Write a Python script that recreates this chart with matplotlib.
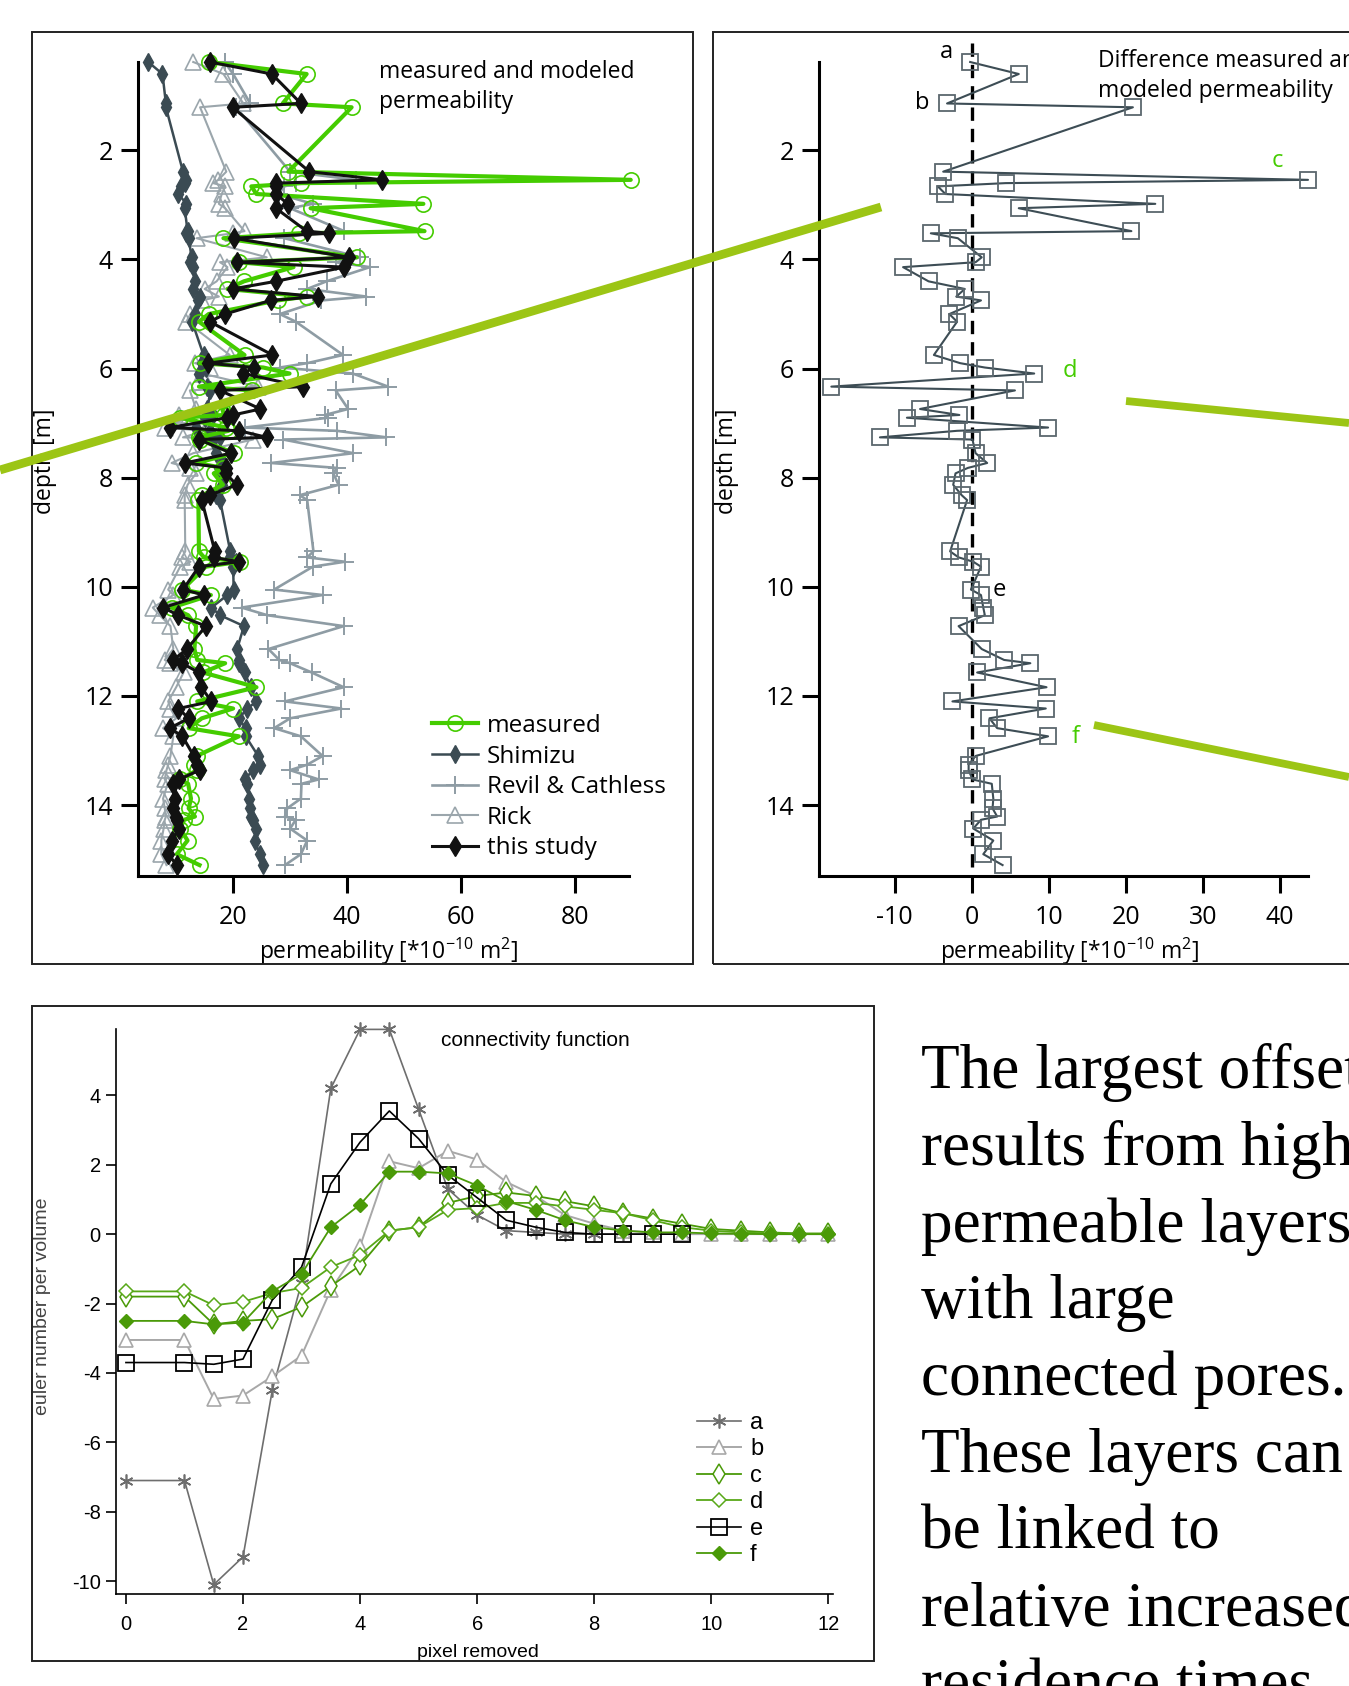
import matplotlib
matplotlib.use("Agg")
import matplotlib.pyplot as plt
from matplotlib.lines import Line2D
from matplotlib.patches import Rectangle

# ---------------- data: permeability profiles ----------------
depth = [0.38, 0.60, 1.14, 1.21, 2.39, 2.54, 2.60, 2.66, 2.80, 2.98,
         3.06, 3.48, 3.52, 3.61, 3.96, 4.05, 4.14, 4.40, 4.54, 4.68,
         4.75, 5.00, 5.14, 5.75, 5.90, 5.98, 6.09, 6.33, 6.40, 6.74,
         6.85, 6.90, 7.08, 7.14, 7.26, 7.30, 7.55, 7.73, 7.82, 7.92,
         8.13, 8.32, 8.41, 9.35, 9.46, 9.54, 9.63, 10.05, 10.15, 10.38,
         10.52, 10.72, 11.14, 11.34, 11.40, 11.57, 11.84, 12.10, 12.23, 12.41,
         12.59, 12.74, 13.10, 13.26, 13.36, 13.53, 13.61, 13.88, 14.06, 14.21,
         14.27, 14.43, 14.65, 14.90, 15.10]

measured = [15.7, 32.9, 28.7, 40.8, 29.7, 89.8, 32.0, 23.2, 24.1, 53.4,
            33.6, 53.6, 31.5, 18.3, 41.7, 21.1, 30.6, 21.9, 19.0, 32.9,
            27.8, 15.7, 14.0, 22.0, 14.1, 25.3, 29.9, 14.0, 23.3, 18.1,
            18.4, 10.6, 18.8, 19.2, 14.0, 14.1, 20.2, 13.5, 18.3, 16.6,
            18.2, 14.6, 13.9, 14.0, 14.9, 21.2, 15.2, 11.1, 16.1, 9.2,
            12.1, 13.5, 13.2, 13.7, 18.6, 14.7, 24.1, 13.7, 20.0, 14.5,
            12.2, 21.0, 13.6, 13.2, 13.7, 10.6, 12.1, 12.6, 12.2, 13.3,
            11.4, 10.7, 12.0, 10.1, 14.1]

this_study = [15.9, 26.8, 31.9, 19.9, 33.4, 46.2, 27.6, 27.6, 27.5, 29.6,
              27.5, 32.9, 36.8, 20.1, 40.4, 20.6, 39.5, 27.5, 19.9, 34.9,
              26.6, 18.6, 15.9, 26.9, 15.6, 23.6, 21.8, 32.2, 17.7, 24.8,
              20.0, 19.0, 8.9, 21.1, 25.9, 14.0, 19.7, 11.5, 18.8, 18.7,
              20.6, 15.9, 14.5, 16.8, 16.6, 21.0, 14.0, 11.2, 14.9, 7.7,
              10.4, 15.2, 11.9, 9.5, 11.0, 14.0, 14.4, 16.2, 10.4, 12.2,
              8.9, 11.1, 13.1, 13.6, 14.1, 10.5, 9.5, 9.8, 9.5, 10.0,
              10.2, 10.5, 9.2, 8.6, 10.1]

shimizu = [5.1, 7.6, 8.2, 8.2, 11.2, 11.8, 11.5, 10.8, 10.4, 11.8,
           11.5, 12.0, 11.8, 12.2, 12.7, 12.5, 13.0, 13.3, 13.0, 14.2,
           13.8, 13.3, 12.8, 14.8, 14.5, 15.3, 14.0, 15.5, 16.0, 15.5,
           16.5, 15.0, 13.5, 16.0, 17.7, 16.5, 17.0, 18.3, 17.5, 18.8,
           18.0, 17.0, 17.7, 19.5, 19.4, 20.5, 20.0, 20.1, 19.0, 16.2,
           17.7, 21.9, 20.7, 21.0, 21.0, 22.0, 23.1, 24.1, 22.5, 21.0,
           22.2, 22.2, 24.4, 24.7, 23.5, 22.0, 22.5, 22.8, 22.9, 23.2,
           23.5, 24.1, 23.8, 24.7, 25.3]

revil = [18.5, 20.0, 23.0, 20.5, 30.0, 41.5, 31.0, 29.0, 28.0, 34.0,
         30.0, 39.5, 33.0, 29.0, 42.3, 38.0, 44.0, 36.4, 33.0, 43.4,
         35.5, 28.2, 31.0, 39.3, 33.0, 28.2, 41.0, 47.2, 38.0, 40.2,
         36.1, 36.7, 22.1, 38.2, 46.9, 28.8, 41.1, 26.7, 38.2, 37.6,
         38.5, 31.7, 33.0, 34.1, 33.0, 39.6, 34.0, 27.2, 35.7, 21.5,
         26.0, 39.4, 26.2, 28.1, 30.0, 33.8, 39.4, 29.1, 39.0, 30.0,
         27.2, 31.9, 35.7, 33.0, 30.0, 35.0, 32.0, 31.9, 29.5, 29.1,
         31.0, 30.0, 33.0, 31.9, 29.1]

rick = [13.0, 18.3, 21.8, 14.2, 18.8, 17.4, 16.5, 18.6, 18.0, 17.5,
        18.6, 22.0, 20.0, 13.6, 25.9, 17.7, 19.0, 17.1, 15.0, 17.5,
        14.5, 12.5, 11.8, 19.4, 13.3, 16.0, 14.5, 24.4, 12.4, 13.5,
        10.5, 12.0, 8.0, 15.0, 11.2, 23.5, 13.0, 9.2, 12.5, 13.5,
        12.0, 11.5, 11.5, 11.6, 11.0, 12.5, 10.7, 8.6, 9.5, 5.9,
        7.1, 9.0, 9.5, 8.0, 9.0, 11.3, 10.0, 8.6, 9.0, 10.0,
        7.7, 9.5, 9.0, 8.6, 8.3, 8.0, 8.5, 7.7, 8.0, 8.2,
        8.0, 7.8, 7.4, 7.4, 8.3]

difference = [-0.2, 6.1, -3.2, 20.9, -3.7, 43.6, 4.4, -4.4, -3.4, 23.8,
              6.1, 20.7, -5.3, -1.8, 1.3, 0.5, -8.9, -5.6, -0.9, -2.0,
              1.2, -2.9, -1.9, -4.9, -1.5, 1.7, 8.1, -18.2, 5.6, -6.7,
              -1.6, -8.4, 9.9, -1.9, -11.9, 0.1, 0.5, 2.0, -0.5, -2.1,
              -2.4, -1.3, -0.6, -2.8, -1.7, 0.2, 1.2, -0.1, 1.2, 1.5,
              1.7, -1.7, 1.3, 4.2, 7.6, 0.7, 9.7, -2.5, 9.6, 2.3,
              3.3, 9.9, 0.5, -0.4, -0.4, 0.1, 2.6, 2.8, 2.7, 3.3,
              1.2, 0.2, 2.8, 1.5, 4.0]

sample_labels = ['a', 'b', 'c', 'd', 'e', 'f']
sample_label_x = [-3.3, -6.4, 39.6, 12.7, 3.6, 13.5]
sample_label_depth = [0.19, 1.13, 2.20, 6.04, 10.06, 12.76]
sample_label_colors = ['black', 'black', '#44cc00', '#44cc00', 'black', '#44cc00']

# ---------------- data: connectivity function ----------------
pixels = [0, 1, 1.5, 2, 2.5, 3, 3.5, 4, 4.5, 5, 5.5, 6, 6.5, 7, 7.5, 8,
          8.5, 9, 9.5, 10, 10.5, 11, 11.5, 12]
conn_a = [-7.1, -7.1, -10.1, -9.3, -4.5, -1.4, 4.2, 5.9, 5.9, 3.6, 1.3, 0.55,
          0.1, 0.05, 0.0, 0.0, 0.0, 0.0, 0.0]
conn_b = [-3.05, -3.05, -4.75, -4.65, -4.1, -3.5, -1.6, -0.35, 2.1, 1.9, 2.4, 2.15,
          1.5, 1.1, 0.55, 0.3, 0.1, 0.05, 0.0, 0.0, 0.0, 0.0, 0.0, 0.0]
conn_c = [-1.8, -1.8, -2.6, -2.5, -2.45, -2.1, -1.5, -0.9, 0.1, 0.2, 0.9, 1.1,
          1.2, 1.1, 0.95, 0.8, 0.6, 0.45, 0.3, 0.15, 0.1, 0.05, 0.02, 0.02]
conn_d = [-1.65, -1.65, -2.05, -1.95, -1.7, -1.55, -0.95, -0.6, 0.1, 0.2, 0.7, 0.75,
          0.9, 0.9, 0.8, 0.7, 0.6, 0.4, 0.2, 0.1, 0.05, 0.02, 0.01, 0.0]
conn_e = [-3.7, -3.7, -3.75, -3.6, -1.9, -0.95, 1.45, 2.65, 3.55, 2.75, 1.7, 1.05,
          0.4, 0.2, 0.05, 0.0, 0.0, 0.0, 0.0]
conn_f = [-2.5, -2.5, -2.6, -2.55, -1.65, -1.15, 0.2, 0.85, 1.8, 1.8, 1.75, 1.4,
          0.95, 0.7, 0.4, 0.2, 0.1, 0.05, 0.05, 0.02, 0.01, 0.0, 0.0, 0.0]

text_lines = ["The largest offset", "results from high", "permeable layers",
              "with large", "connected pores.", "These layers can",
              "be linked to", "relative increased", "residence times."]

# ---------------- figure ----------------
plt.rcParams['font.family'] = ['Open Sans', 'DejaVu Sans']
plt.rcParams['axes.unicode_minus'] = False
plt.rcParams['mathtext.fontset'] = 'custom'
plt.rcParams['mathtext.rm'] = 'Open Sans'
plt.rcParams['mathtext.it'] = 'Open Sans:italic'

W, H = 1349, 1686
fig = plt.figure(figsize=(W / 100, H / 100), dpi=100)


def fx(x):
    return x / W


def fy(y):
    return 1 - y / H


ARIAL = ['Liberation Sans', 'DejaVu Sans']
GREEN = '#44cc00'

# panel frames
for (x0, y0, x1, y1) in [(32, 32, 693, 964), (713, 32, 1420, 964), (32, 1006, 874, 1661)]:
    fig.add_artist(Rectangle((fx(x0), fy(y1)), fx(x1) - fx(x0), fy(y0) - fy(y1),
                             transform=fig.transFigure, fill=False, ec='#222222', lw=1.4))


def style_top(ax):
    for s in ['top', 'right']:
        ax.spines[s].set_visible(False)
    for s in ['left', 'bottom']:
        ax.spines[s].set_linewidth(2.2)
    ax.tick_params(axis='both', direction='out', length=12, width=2.2, labelsize=18)
    ax.tick_params(axis='y', pad=6)
    ax.tick_params(axis='x', pad=9)
    ax.set_yticks([2, 4, 6, 8, 10, 12, 14])
    ax.set_ylim(15.30, 0.38)


xlabel_txt = r'permeability [*10$^{\mathregular{-10}}$ m$^{\mathregular{2}}$]'

# ---- left panel ----
ax1 = fig.add_axes([fx(138), fy(876), (629 - 138) / W, (876 - 62) / H])
style_top(ax1)
ax1.set_xlim(3.3, 89.5)
ax1.set_xticks([20, 40, 60, 80])
l_rev, = ax1.plot(revil, depth, color='#8e9ca4', lw=1.9, marker='+', ms=13, mew=1.4,
                  clip_on=False, zorder=2, label='Revil & Cathless')
l_rick, = ax1.plot(rick, depth, color='#9ba6ac', lw=1.5, marker='^', ms=11, mfc='none',
                   mew=1.2, clip_on=False, zorder=2, label='Rick')
l_shi, = ax1.plot(shimizu, depth, color='#3b4b53', lw=1.8, marker='d', ms=9,
                  clip_on=False, zorder=3, label='Shimizu')
l_mea, = ax1.plot(measured, depth, color=GREEN, lw=3.0, marker='o', ms=11, mfc='none',
                  mew=1.2, clip_on=False, zorder=4, label='measured')
l_ts, = ax1.plot(this_study, depth, color='#111111', lw=2.2, marker='d', ms=10.5,
                 clip_on=False, zorder=5, label='this study')
ax1.set_ylabel('depth [m]', fontsize=16.5)
ax1.yaxis.set_label_coords(-0.165, 0.509)
ax1.set_xlabel(xlabel_txt, fontsize=16.5)
ax1.xaxis.set_label_coords(0.511, -0.074)
fig.text(fx(379), fy(87), 'measured and modeled\npermeability',
         fontsize=16.5, ha='left', va='center', linespacing=1.3)
ax1.legend(handles=[l_mea, l_shi, l_rev, l_rick, l_ts], loc='upper left',
           bbox_to_anchor=(fx(432), fy(714)), bbox_transform=fig.transFigure,
           frameon=False, fontsize=17.5, borderpad=0, borderaxespad=0,
           handlelength=1.9, handletextpad=0.35, labelspacing=0.27)

# ---- right panel ----
ax2 = fig.add_axes([fx(819), fy(876), (1308 - 819) / W, (876 - 62) / H])
style_top(ax2)
ax2.set_xlim(-19.8, 43.6)
ax2.set_xticks([-10, 0, 10, 20, 30, 40])
ax2.plot([0, 0], [0.03, 15.30], color='black', lw=2.4, ls=(0, (4, 2.4)),
         clip_on=False, zorder=2)
ax2.plot(difference, depth, color='#3d4d55', lw=1.5, marker='s', ms=11, mfc='none',
         mec='#5b676d', mew=1.3, clip_on=False, zorder=3)
for lab, lx, ld, lc in zip(sample_labels, sample_label_x, sample_label_depth, sample_label_colors):
    ax2.text(lx, ld, lab, color=lc, fontsize=17, ha='center', va='center', clip_on=False)
ax2.set_ylabel('depth [m]', fontsize=16.5)
ax2.yaxis.set_label_coords(-0.163, 0.509)
ax2.set_xlabel(xlabel_txt, fontsize=16.5)
ax2.xaxis.set_label_coords(0.513, -0.074)
fig.text(fx(1098), fy(76), 'Difference measured and\nmodeled permeability', fontsize=16.5,
         ha='left', va='center', linespacing=1.3)

# ---- bottom panel ----
ax3 = fig.add_axes([fx(116), fy(1594), (833 - 116) / W, (1594 - 1028.7) / H])
for s in ['top', 'right']:
    ax3.spines[s].set_visible(False)
for s in ['left', 'bottom']:
    ax3.spines[s].set_linewidth(1.2)
ax3.tick_params(axis='both', direction='out', length=7, width=1.2, labelsize=14.5)
ax3.tick_params(axis='y', pad=4)
ax3.tick_params(axis='x', pad=8)
ax3.set_xlim(-0.17, 12.08)
ax3.set_ylim(-10.37, 5.92)
ax3.set_xticks([0, 2, 4, 6, 8, 10, 12])
ax3.set_yticks([-10, -8, -6, -4, -2, 0, 2, 4])
for t in ax3.get_xticklabels() + ax3.get_yticklabels():
    t.set_fontfamily(ARIAL)

GREEN2 = '#4a9a08'
n_a = len(conn_a)
n_e = len(conn_e)
h_a, = ax3.plot(pixels[:n_a], conn_a, color='#6e6e6e', lw=1.2, marker=(6, 2, 0), ms=10,
                mew=1.2, clip_on=False, label='a')
h_b, = ax3.plot(pixels, conn_b, color='#a8a8a8', lw=1.4, marker='^', ms=10, mfc='white',
                mew=1.2, clip_on=False, label='b')
h_c, = ax3.plot(pixels, conn_c, color=GREEN2, lw=1.3, marker='d', ms=10, mfc='white',
                mew=1.1, clip_on=False, label='c')
h_d, = ax3.plot(pixels, conn_d, color='#58a818', lw=1.3, marker='D', ms=7.5, mfc='white',
                mew=1.1, clip_on=False, label='d')
h_e, = ax3.plot(pixels[:n_e], conn_e, color='black', lw=1.2, marker='s', ms=11, mfc='none',
                mew=1.3, clip_on=False, label='e')
h_f, = ax3.plot(pixels, conn_f, color=GREEN2, lw=1.3, marker='D', ms=7.5,
                clip_on=False, label='f')
ax3.set_ylabel('euler number per volume', fontsize=14, color='#444444', family=ARIAL)
ax3.yaxis.set_label_coords(-0.09, 0.509)
ax3.set_xlabel('pixel removed', fontsize=14, family=ARIAL)
ax3.xaxis.set_label_coords(0.505, -0.088)
fig.text(fx(441), fy(1040), 'connectivity function', fontsize=15, family=ARIAL,
         ha='left', va='center')
ax3.legend(handles=[h_a, h_b, h_c, h_d, h_e, h_f], loc='upper left',
           bbox_to_anchor=(fx(697), fy(1412)), bbox_transform=fig.transFigure,
           frameon=False, prop={'family': ARIAL, 'size': 17}, borderpad=0,
           borderaxespad=0, handlelength=1.85, handletextpad=0.4, labelspacing=0.19)

# ---- overlay connector lines ----
LGREEN = '#9cc515'
for (x0, y0, x1, y1, lw) in [(0, 470, 881, 207, 6.3), (1126, 401, 1349, 423, 5.6),
                             (1094, 725, 1349, 777, 5.6)]:
    fig.add_artist(Line2D([fx(x0), fx(x1)], [fy(y0), fy(y1)], transform=fig.transFigure,
                          color=LGREEN, lw=lw, solid_capstyle='butt', zorder=20))

# ---- right-hand explanatory text ----
for k, line in enumerate(text_lines):
    fig.text(fx(921), fy(1088 + k * 76.8), line, fontsize=45.5,
             family=['Liberation Serif', 'DejaVu Serif'], ha='left', va='baseline')

fig.savefig('out.png', dpi=100)
